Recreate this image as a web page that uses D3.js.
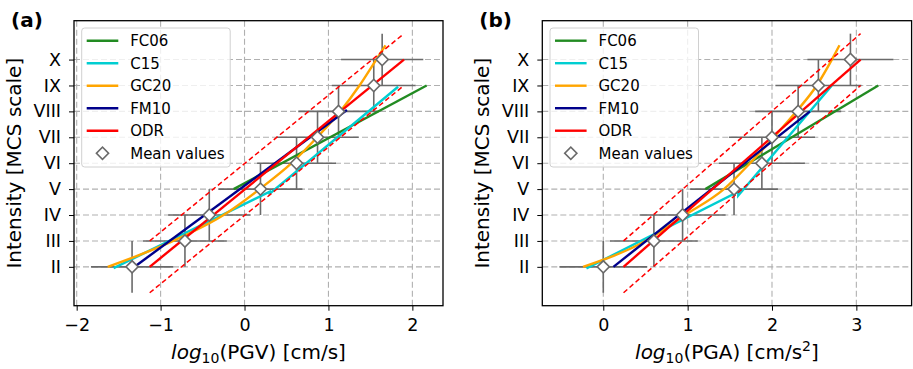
<!DOCTYPE html>
<html>
<head>
<meta charset="utf-8">
<script src="https://cdn.jsdelivr.net/npm/d3@7"></script>
<style>
  body { margin: 0; background: #fff; }
  svg { font-family: "DejaVu Sans", sans-serif; display: block; }
</style>
</head>
<body>
<svg id="chart"></svg>
<script>
// Figure size
const width = 913;
const height = 369;

// Shared axis values
const intensityLevels = [2, 3, 4, 5, 6, 7, 8, 9, 10];
const romanLabels = ["II", "III", "IV", "V", "VI", "VII", "VIII", "IX", "X"];
const intensityErr = [1, 1, 1, 1, 1, 1, 1, 1, 1];
const legendLabels = ["FC06", "C15", "GC20", "FM10", "ODR", "Mean values"];
const modelColors = ["#228b22", "#00ced1", "#ffa500", "#00008b", "#ff0000"];

// Panel (a): PGV
const pgvTicks = [-2, -1, 0, 1, 2];
const pgvMeans = [-1.34, -0.71, -0.42, 0.19, 0.62, 0.87, 1.12, 1.54, 1.64];
const pgvStd = [0.49, 0.50, 0.49, 0.50, 0.47, 0.49, 0.48, 0.50, 0.49];
const pgvFC06 = [[-0.13, 5.0], [2.17, 9.0]];
const pgvC15 = [[-1.56, 1.95], [0.30, 4.90], [0.30, 4.82], [1.83, 8.95]];
const pgvGC20 = [[-1.63, 2.0], [-0.85, 3.0], [-0.25, 4.0], [0.18, 5.0], [0.56, 6.0],
                 [0.865, 7.0], [1.14, 8.0], [1.37, 9.0], [1.57, 10.0], [1.68, 10.55]];
const pgvFM10 = [[-1.29, 2.05], [1.22, 8.05]];
const pgvODR = [[-1.13, 2.0], [1.90, 10.0]];
const pgvODRUpper = [[-1.13, 3.0], [1.90, 11.0]];
const pgvODRLower = [[-1.13, 1.0], [1.90, 9.0]];

// Panel (b): PGA
const pgaTicks = [0, 1, 2, 3];
const pgaMeans = [0.00, 0.60, 0.94, 1.55, 1.88, 2.00, 2.31, 2.55, 2.93];
const pgaStd = [0.52, 0.52, 0.51, 0.52, 0.51, 0.51, 0.51, 0.51, 0.51];
const pgaFC06 = [[1.21, 5.0], [3.26, 9.0]];
const pgaC15 = [[-0.20, 1.94], [1.60, 4.90], [1.60, 4.75], [2.71, 9.0]];
const pgaGC20 = [[-0.24, 2.0], [0.50, 3.0], [0.97, 4.0], [1.43, 5.0], [1.74, 6.0],
                 [2.02, 7.0], [2.29, 8.0], [2.53, 9.0], [2.71, 10.0], [2.80, 10.55]];
const pgaFM10 = [[0.12, 2.0], [2.45, 8.0]];
const pgaODR = [[0.24, 2.0], [3.05, 10.0]];
const pgaODRUpper = [[0.24, 3.0], [3.05, 11.0]];
const pgaODRLower = [[0.24, 1.0], [3.05, 9.0]];

const svg = d3.select("#chart")
  .attr("width", width)
  .attr("height", height);

const panels = [
  {
    tag: "(a)", left: 74, right: 443, xDomain: [-2.032, 2.365], ticks: pgvTicks,
    means: pgvMeans, std: pgvStd,
    models: [pgvFC06, pgvC15, pgvGC20, pgvFM10, pgvODR],
    upper: pgvODRUpper, lower: pgvODRLower,
    quantity: "(PGV) [cm/s", sup: null, legendX: 81.7
  },
  {
    tag: "(b)", left: 542.3, right: 911.6, xDomain: [-0.723, 3.655], ticks: pgaTicks,
    means: pgaMeans, std: pgaStd,
    models: [pgaFC06, pgaC15, pgaGC20, pgaFM10, pgaODR],
    upper: pgaODRUpper, lower: pgaODRLower,
    quantity: "(PGA) [cm/s", sup: "2", legendX: 550
  }
];

const plotTop = 20.7, plotBottom = 305.7;

panels.forEach(p => drawPanel(p));

function drawPanel(p) {
  const x = d3.scaleLinear().domain(p.xDomain).range([p.left, p.right]);
  const y = d3.scaleLinear().domain([0.5, 11.5]).range([plotBottom, plotTop]);
  const g = svg.append("g");

  // Grid
  g.selectAll(".gx").data(p.ticks).enter().append("line")
    .attr("x1", d => x(d)).attr("x2", d => x(d))
    .attr("y1", plotTop).attr("y2", plotBottom)
    .style("stroke", "#b0b0b0").style("stroke-width", 1.1)
    .style("stroke-dasharray", "6,3");
  g.selectAll(".gy").data(intensityLevels).enter().append("line")
    .attr("x1", p.left).attr("x2", p.right)
    .attr("y1", d => y(d)).attr("y2", d => y(d))
    .style("stroke", "#b0b0b0").style("stroke-width", 1.1)
    .style("stroke-dasharray", "6,3");

  // Error bars
  const pts = p.means.map((m, i) => ({ x: m, y: intensityLevels[i], sx: p.std[i], sy: intensityErr[i] }));
  g.selectAll(".ebx").data(pts).enter().append("line")
    .attr("x1", d => x(d.x - d.sx)).attr("x2", d => x(d.x + d.sx))
    .attr("y1", d => y(d.y)).attr("y2", d => y(d.y))
    .style("stroke", "#6a6a6a").style("stroke-width", 1.6);
  g.selectAll(".eby").data(pts).enter().append("line")
    .attr("x1", d => x(d.x)).attr("x2", d => x(d.x))
    .attr("y1", d => y(d.y - d.sy)).attr("y2", d => y(d.y + d.sy))
    .style("stroke", "#6a6a6a").style("stroke-width", 1.6);

  // Model lines
  const line = d3.line().x(d => x(d[0])).y(d => y(d[1]));
  const curve = d3.line().x(d => x(d[0])).y(d => y(d[1])).curve(d3.curveMonotoneX);
  p.models.forEach((m, i) => {
    g.append("path")
      .attr("d", i === 2 ? curve(m) : line(m))
      .style("fill", "none")
      .style("stroke", modelColors[i])
      .style("stroke-width", 2.4);
  });
  [p.upper, p.lower].forEach(m => {
    g.append("path")
      .attr("d", line(m))
      .style("fill", "none")
      .style("stroke", "#ff0000")
      .style("stroke-width", 1.5)
      .style("stroke-dasharray", "5,3");
  });

  // Mean values
  const diamond = d3.symbol().type(d3.symbolSquare).size(74);
  g.selectAll(".mean").data(pts).enter().append("path")
    .attr("d", diamond)
    .attr("transform", d => `translate(${x(d.x)},${y(d.y)}) rotate(45)`)
    .style("fill", "#fff")
    .style("stroke", "#6a6a6a")
    .style("stroke-width", 1.6);

  // Frame
  g.append("rect")
    .attr("x", p.left).attr("y", plotTop)
    .attr("width", p.right - p.left).attr("height", plotBottom - plotTop)
    .style("fill", "none").style("stroke", "#000").style("stroke-width", 1.3);

  // Axes
  const xAxis = g.append("g")
    .attr("transform", `translate(0,${plotBottom})`)
    .call(d3.axisBottom(x).tickValues(p.ticks).tickSize(5).tickPadding(8).tickFormat(d3.format("d")));
  const yAxis = g.append("g")
    .attr("transform", `translate(${p.left},0)`)
    .call(d3.axisLeft(y).tickValues(intensityLevels).tickSize(5).tickPadding(8)
      .tickFormat((d, i) => romanLabels[i]));
  [xAxis, yAxis].forEach(a => {
    a.select(".domain").remove();
    a.selectAll("text").style("font-size", "17.5px").style("fill", "#000")
      .style("font-family", "DejaVu Sans");
    a.selectAll("line").style("stroke", "#000").style("stroke-width", 1);
  });

  // Axis labels
  const xl = svg.append("text")
    .attr("x", (p.left + p.right) / 2)
    .attr("y", 359)
    .attr("text-anchor", "middle")
    .style("font-size", "20px");
  xl.append("tspan").text("log").style("font-style", "italic");
  xl.append("tspan").text("10").style("font-size", "14px").attr("dy", 4);
  xl.append("tspan").text(p.quantity).attr("dy", -4);
  if (p.sup) {
    xl.append("tspan").text(p.sup).style("font-size", "14px").attr("dy", -8);
    xl.append("tspan").text("]").attr("dy", 8);
  } else {
    xl.append("tspan").text("]");
  }

  svg.append("text")
    .attr("transform", `translate(${p.left - 53},${(plotTop + plotBottom) / 2}) rotate(-90)`)
    .attr("text-anchor", "middle")
    .style("font-size", "20px")
    .text("Intensity [MCS scale]");

  svg.append("text")
    .attr("x", p.left - 63)
    .attr("y", 27)
    .style("font-size", "20px")
    .style("font-weight", "bold")
    .text(p.tag);

  // Legend
  const lg = svg.append("g").attr("transform", `translate(${p.legendX},28)`);
  lg.append("rect")
    .attr("width", 148.5).attr("height", 139).attr("rx", 3)
    .style("fill", "#fff").style("fill-opacity", 0.8)
    .style("stroke", "#d0d0d0").style("stroke-width", 1);
  legendLabels.forEach((lab, i) => {
    const ry = 12.7 + i * 22.5;
    if (i < 5) {
      lg.append("line")
        .attr("x1", 5).attr("x2", 36.6).attr("y1", ry).attr("y2", ry)
        .style("stroke", modelColors[i]).style("stroke-width", 2.4);
    } else {
      lg.append("path")
        .attr("d", diamond)
        .attr("transform", `translate(20.8,${ry}) rotate(45)`)
        .style("fill", "#fff").style("stroke", "#6a6a6a").style("stroke-width", 1.6);
    }
    lg.append("text")
      .attr("x", 48.5).attr("y", ry).attr("dy", "0.36em")
      .style("font-size", "15px")
      .text(lab);
  });
}
</script>
</body>
</html>
